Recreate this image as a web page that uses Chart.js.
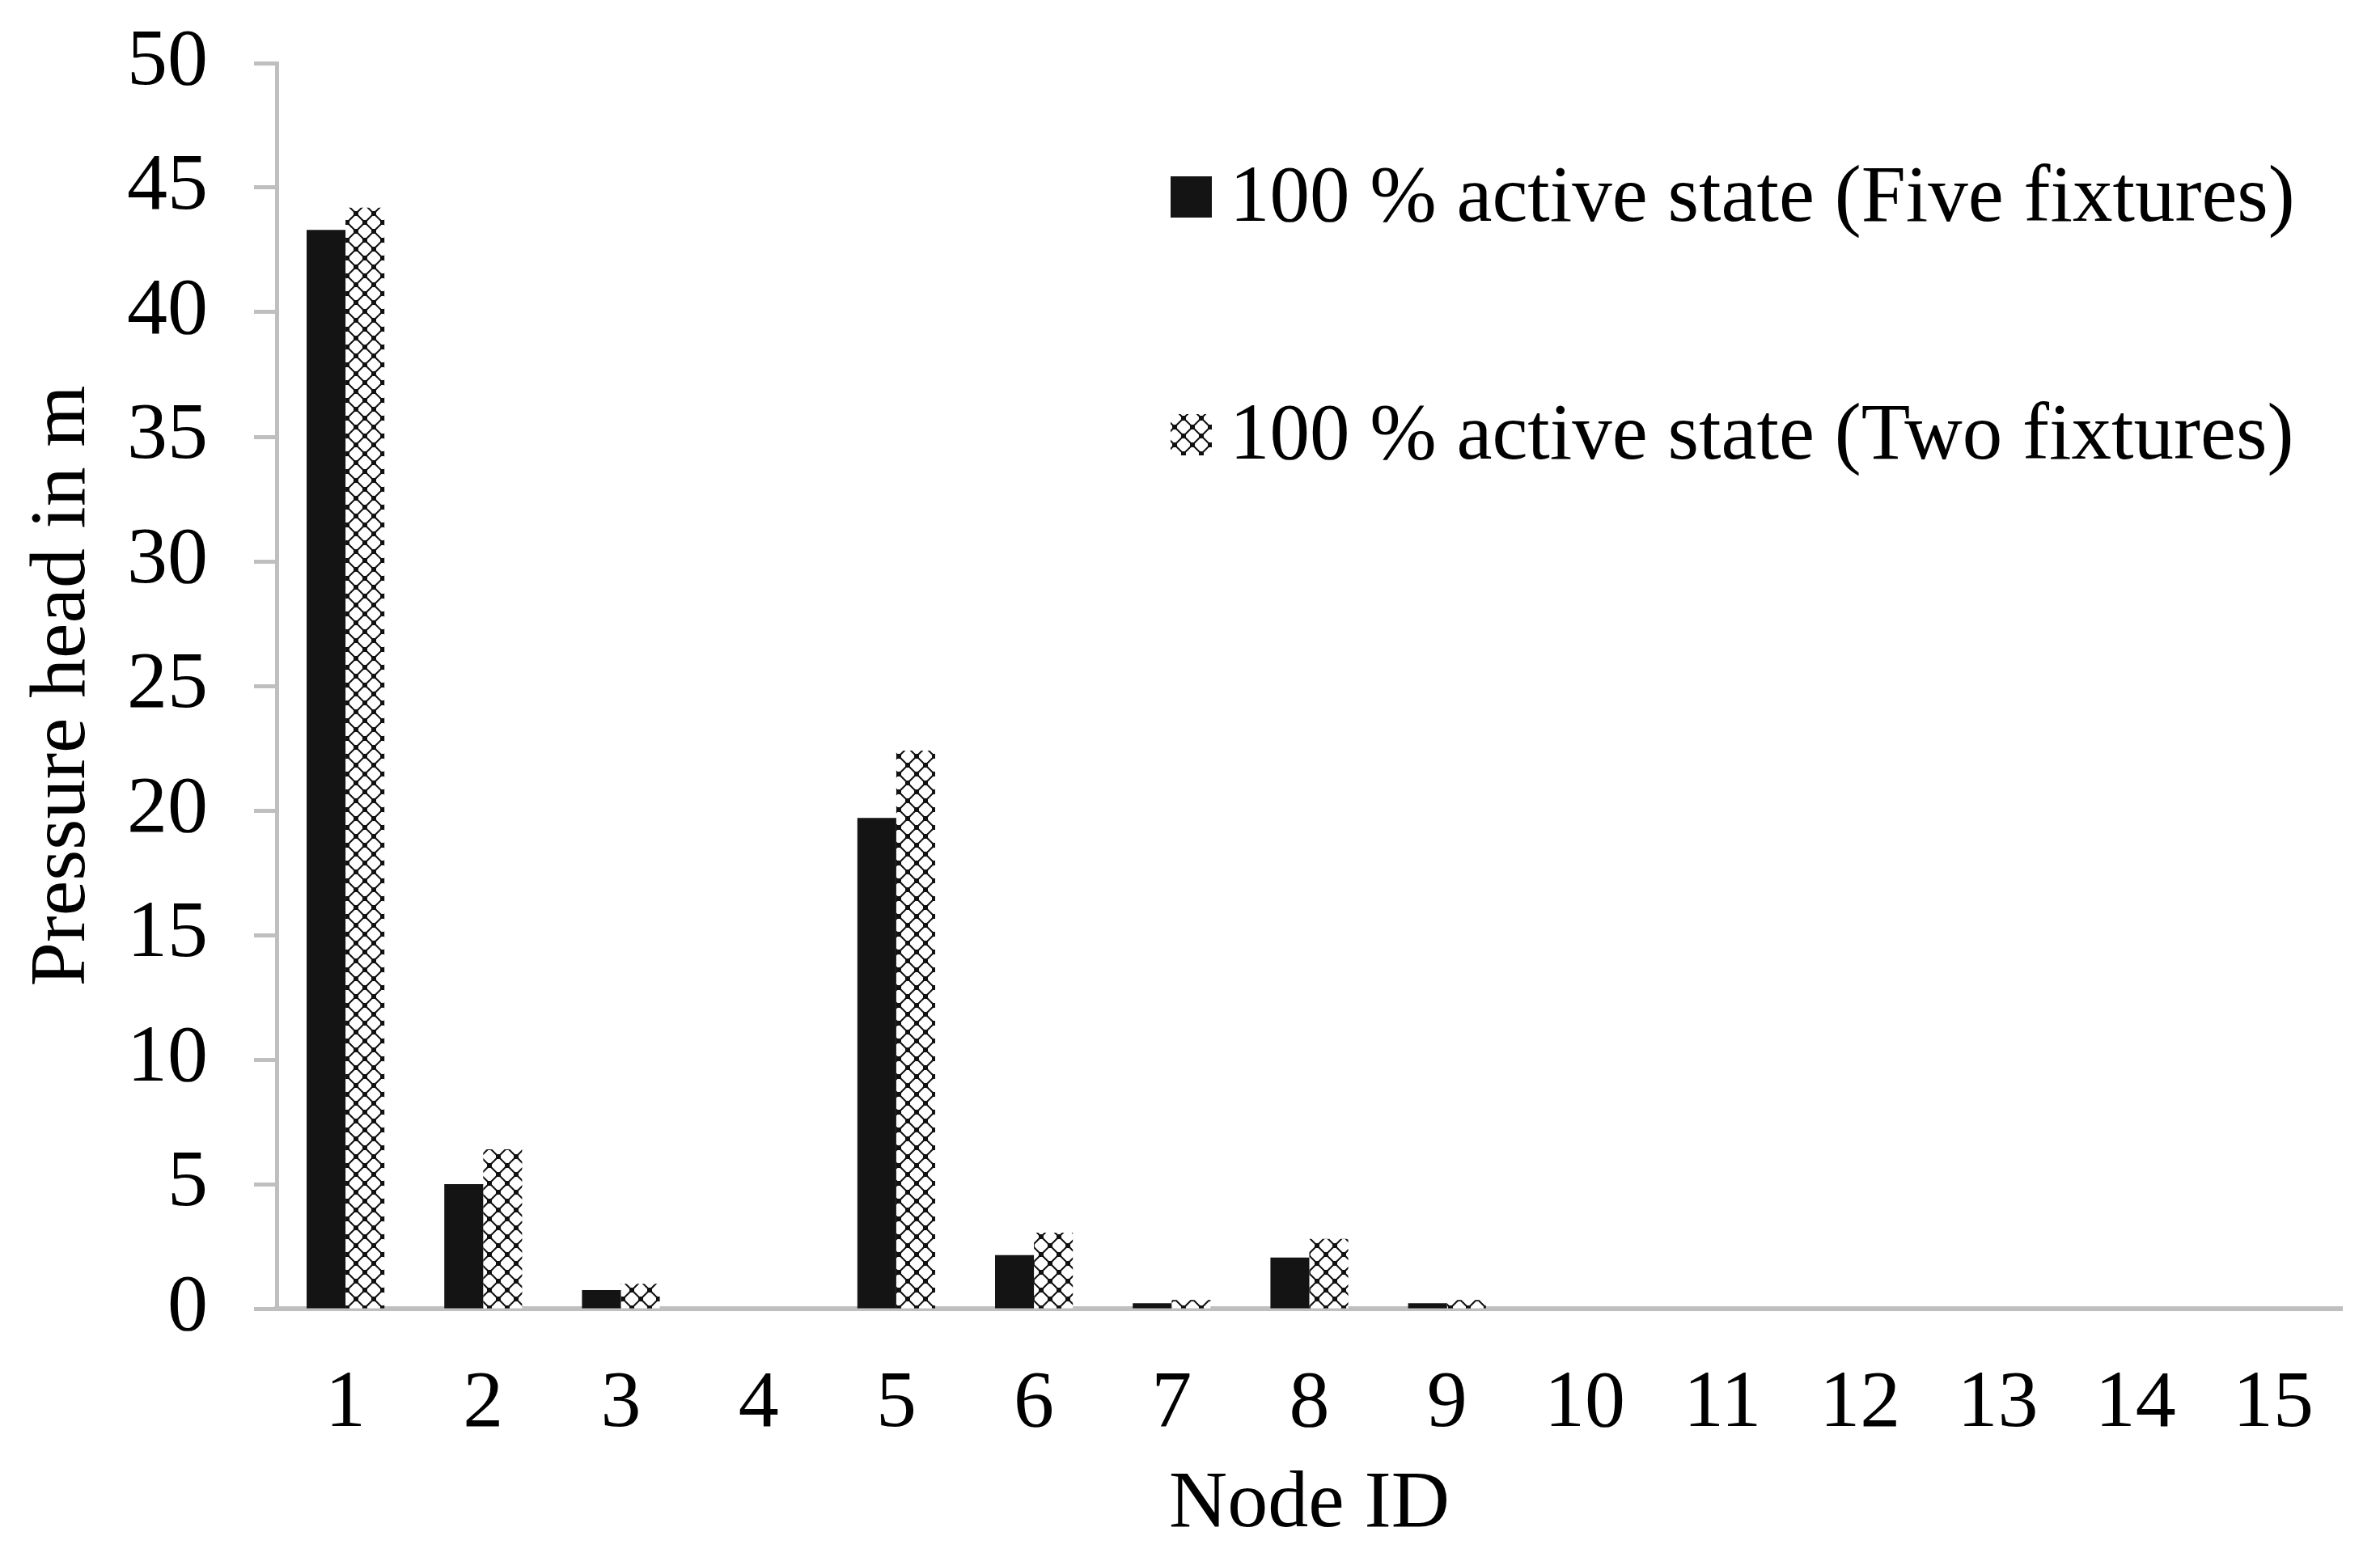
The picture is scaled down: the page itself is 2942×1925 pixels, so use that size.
<!DOCTYPE html>
<html>
<head>
<meta charset="utf-8">
<script src="https://cdn.jsdelivr.net/npm/chart.js@4.4.1/dist/chart.umd.min.js"></script>
<style>
  body { margin: 0; background: #fff; }
  .chart-container { width: 2942px; height: 1925px; }
</style>
</head>
<body>
<div class="chart-container"><canvas id="chart"></canvas></div>
<script>
// Node IDs on the x axis
const nodeIds = ['1', '2', '3', '4', '5', '6', '7', '8', '9', '10', '11', '12', '13', '14', '15'];
// Pressure head (m)
const fiveFixtures = [43.3, 5.0, 0.75, 0, 19.7, 2.15, 0.22, 2.05, 0.22, 0, 0, 0, 0, 0, 0];
const twoFixtures = [44.2, 6.4, 1.0, 0, 22.4, 3.05, 0.35, 2.8, 0.35, 0, 0, 0, 0, 0, 0];
const seriesNames = ['100 % active state (Five fixtures)', '100 % active state (Two fixtures)'];

const FONT = '"Liberation Serif", "Times New Roman", serif';

// lattice-like hatch used for the second series
function makeHatch() {
  const size = 22;
  const c = document.createElement('canvas');
  c.width = size;
  c.height = size;
  const g = c.getContext('2d');
  g.fillStyle = '#fff';
  g.fillRect(0, 0, size, size);
  g.strokeStyle = '#111';
  g.lineWidth = 2;
  g.beginPath();
  g.moveTo(0, 0); g.lineTo(size, size);
  g.moveTo(size, 0); g.lineTo(0, size);
  g.stroke();
  g.fillStyle = '#111';
  const h = 3;
  [[0, 0], [size, 0], [0, size], [size, size], [size / 2, size / 2]].forEach(([x, y]) => {
    g.fillRect(x - h, y - h, h * 2, h * 2);
  });
  return g.createPattern(c, 'repeat');
}

// legend drawn inside the plot, top right
const insideLegend = {
  id: 'insideLegend',
  afterDatasetsDraw(chart) {
    const ctx = chart.ctx;
    ctx.save();
    ctx.font = '99px ' + FONT;
    ctx.textBaseline = 'alphabetic';
    ctx.textAlign = 'left';
    chart.data.datasets.forEach((ds, i) => {
      const top = 218 + i * 294;
      ctx.fillStyle = ds.backgroundColor;
      ctx.fillRect(1447, top, 51, 51);
      ctx.fillStyle = '#000';
      ctx.fillText(ds.label, 1520, top + 55);
    });
    ctx.restore();
  }
};

const ctx = document.getElementById('chart').getContext('2d');
new Chart(ctx, {
  type: 'bar',
  data: {
    labels: nodeIds,
    datasets: [
      {
        label: seriesNames[0],
        data: fiveFixtures,
        backgroundColor: '#141414',
        borderWidth: 0
      },
      {
        label: seriesNames[1],
        data: twoFixtures,
        backgroundColor: makeHatch(),
        borderWidth: 0
      }
    ]
  },
  options: {
    responsive: true,
    maintainAspectRatio: false,
    animation: false,
    layout: { padding: { top: 78, right: 47, left: 0, bottom: 0 } },
    datasets: {
      bar: { categoryPercentage: 0.565, barPercentage: 1.0 }
    },
    plugins: {
      legend: { display: false },
      tooltip: { enabled: false }
    },
    scales: {
      x: {
        grid: { display: false },
        border: { display: true, color: '#bfbfbf', width: 6 },
        ticks: {
          color: '#000',
          padding: 51,
          font: { family: FONT, size: 100 },
          maxRotation: 0
        },
        title: {
          display: true,
          text: 'Node ID',
          color: '#000',
          font: { family: FONT, size: 100 },
          padding: { top: 0, bottom: 4 }
        },
        afterFit(scale) { scale.height = 307; }
      },
      y: {
        min: 0,
        max: 50,
        grid: {
          drawOnChartArea: false,
          drawTicks: true,
          tickLength: 28,
          tickWidth: 5,
          tickColor: '#bfbfbf',
          color: '#bfbfbf'
        },
        border: { display: true, color: '#bfbfbf', width: 5 },
        ticks: {
          stepSize: 5,
          color: '#000',
          padding: 57,
          font: { family: FONT, size: 100 }
        },
        title: {
          display: true,
          text: 'Pressure head in m',
          color: '#000',
          font: { family: FONT, size: 98 },
          padding: { top: 19, bottom: 0 }
        },
        afterFit(scale) {
          scale.width = 342;
          // tick padding would otherwise push the plot top down
          scale.paddingTop = 0;
          scale.paddingBottom = 0;
        }
      }
    }
  },
  plugins: [insideLegend]
});
</script>
</body>
</html>
